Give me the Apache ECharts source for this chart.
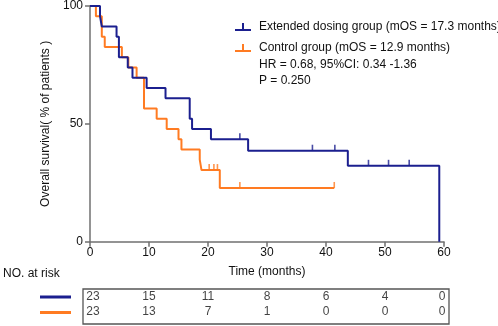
<!DOCTYPE html>
<html><head><meta charset="utf-8">
<script src="https://cdn.jsdelivr.net/npm/echarts@6/dist/echarts.min.js"></script>
<style>html,body{margin:0;padding:0;background:#fff;}#c{width:498px;height:326px;}</style>
</head><body><div id="c"></div>
<script>
// Kaplan-Meier step data (time in months, survival in %)
const extTimes = [0, 1.7, 2.0, 4.5, 4.9, 6.4, 7.2, 9.6, 12.8, 16.9, 17.3, 20.5, 26.8, 43.7, 59.2];
const extSurv  = [100, 95.65, 91.3, 87.0, 78.3, 73.9, 69.6, 65.2, 60.9, 52.2, 47.8, 43.5, 38.6, 32.2, 0];
const extCensT = [25.4, 37.7, 41.5, 47.2, 50.6, 54.1];
const extCensS = [43.5, 38.6, 38.6, 32.2, 32.2, 32.2];

const ctlTimes = [0, 1.0, 2.0, 2.5, 5.4, 6.5, 7.9, 9.15, 11.3, 13.0, 15.0, 15.5, 18.6, 18.9, 22.0, 41.4];
const ctlSurv  = [100, 95.65, 87.0, 82.6, 78.3, 73.9, 69.6, 56.5, 52.2, 47.8, 43.5, 39.1, 34.8, 30.4, 22.8, 22.8];
const ctlCensT = [20.2, 21.0, 21.6, 25.4, 41.4];
const ctlCensS = [30.4, 30.4, 30.4, 22.8, 22.8];

const riskTimes = [0, 10, 20, 30, 40, 50, 60];
const extRisk = [23, 15, 11, 8, 6, 4, 0];
const ctlRisk = [23, 13, 7, 1, 0, 0, 0];

const xTicks = [0, 10, 20, 30, 40, 50, 60];
const yTicks = [0, 50, 100];

const extName = 'Extended dosing group (mOS = 17.3 months)';
const ctlName = 'Control group (mOS = 12.9 months)';
const BLUE = '#1b1f8f', ORANGE = '#ff7b22', AX = '#707070';
const FONT = 'Liberation Sans, Arial, sans-serif';

const zip = (a, b) => a.map((v, i) => [v, b[i]]);
const chart = echarts.init(document.getElementById('c'), null, {renderer: 'canvas'});
const tickPath = 'path://M0,9h16v2h-16z M7,3h2v6h-2z';

chart.setOption({
  animation: false,
  textStyle: {fontFamily: FONT},
  grid: [
    {left: 90, top: 6, width: 354, height: 235.7},
    {left: 90, top: 289, width: 354, height: 35}
  ],
  legend: {
    left: 230, top: 16, orient: 'vertical', itemGap: 9, itemWidth: 16, itemHeight: 12,
    textStyle: {fontSize: 12, color: '#111', fontFamily: FONT, padding: [0, 0, 0, 3]},
    data: [
      {name: extName, icon: tickPath, itemStyle: {color: BLUE}},
      {name: ctlName, icon: tickPath, itemStyle: {color: ORANGE}}
    ]
  },
  xAxis: [
    {gridIndex: 0, type: 'value', min: 0, max: 60, interval: 10,
     name: 'Time (months)', nameLocation: 'middle', nameGap: 24,
     nameTextStyle: {fontSize: 12, color: '#111'},
     axisLine: {lineStyle: {color: AX, width: 1.5}},
     axisTick: {length: 5, lineStyle: {color: AX, width: 1.5}},
     axisLabel: {fontSize: 12, color: '#111', margin: 5},
     splitLine: {show: false}},
    {gridIndex: 1, type: 'value', min: 0, max: 60, show: false}
  ],
  yAxis: [
    {gridIndex: 0, type: 'value', min: 0, max: 100, interval: 50,
     name: 'Overall survival( % of patients )', nameLocation: 'middle', nameGap: 35,
     nameTextStyle: {fontSize: 12, color: '#111'},
     axisLine: {show: true, lineStyle: {color: AX, width: 1.5}},
     axisTick: {show: true, length: 5, lineStyle: {color: AX, width: 1.5}},
     axisLabel: {fontSize: 12, color: '#111', margin: 7},
     splitLine: {show: false}},
    {gridIndex: 1, type: 'value', min: 0, max: 35, inverse: true, show: false}
  ],
  graphic: [
    {type: 'text', left: 259, top: 59, style: {text: 'HR = 0.68, 95%CI: 0.34 -1.36', fontSize: 12, fill: '#111', fontFamily: FONT}},
    {type: 'text', left: 259, top: 75, style: {text: 'P = 0.250', fontSize: 12, fill: '#111', fontFamily: FONT}},
    {type: 'text', left: 3, top: 268, style: {text: 'NO. at risk', fontSize: 12, fill: '#111', fontFamily: FONT}},
    {type: 'rect', shape: {x: 83, y: 289, width: 366, height: 35}, style: {fill: 'none', stroke: '#555', lineWidth: 1.3}},
    {type: 'line', shape: {x1: 40, y1: 297, x2: 71, y2: 297}, style: {stroke: BLUE, lineWidth: 3}},
    {type: 'line', shape: {x1: 40, y1: 312.5, x2: 71, y2: 312.5}, style: {stroke: ORANGE, lineWidth: 3}}
  ],
  series: [
    {name: extName, type: 'line', step: 'end', xAxisIndex: 0, yAxisIndex: 0,
     data: zip(extTimes, extSurv), showSymbol: false, z: 3,
     lineStyle: {color: BLUE, width: 2}, itemStyle: {color: BLUE}},
    {name: ctlName, type: 'line', step: 'end', xAxisIndex: 0, yAxisIndex: 0,
     data: zip(ctlTimes, ctlSurv), showSymbol: false, z: 2,
     lineStyle: {color: ORANGE, width: 2}, itemStyle: {color: ORANGE}},
    {name: extName + ' censored', type: 'scatter', xAxisIndex: 0, yAxisIndex: 0,
     data: zip(extCensT, extCensS), symbol: 'rect', symbolSize: [1.6, 6], symbolOffset: [0, -3],
     itemStyle: {color: BLUE}, z: 3},
    {name: ctlName + ' censored', type: 'scatter', xAxisIndex: 0, yAxisIndex: 0,
     data: zip(ctlCensT, ctlCensS), symbol: 'rect', symbolSize: [1.6, 6], symbolOffset: [0, -3],
     itemStyle: {color: ORANGE}, z: 2},
    {type: 'scatter', xAxisIndex: 1, yAxisIndex: 1, symbolSize: 0,
     data: riskTimes.map((t, i) => ({value: [t, 8], label: {show: true, formatter: String(extRisk[i]), position: 'inside', fontSize: 12, color: '#111',
       offset: [i === 0 ? 3 : (i === riskTimes.length - 1 ? -2 : 0), 0]}}))},
    {type: 'scatter', xAxisIndex: 1, yAxisIndex: 1, symbolSize: 0,
     data: riskTimes.map((t, i) => ({value: [t, 23], label: {show: true, formatter: String(ctlRisk[i]), position: 'inside', fontSize: 12, color: '#111',
       offset: [i === 0 ? 3 : (i === riskTimes.length - 1 ? -2 : 0), 0]}}))}
  ]
});
</script></body></html>
